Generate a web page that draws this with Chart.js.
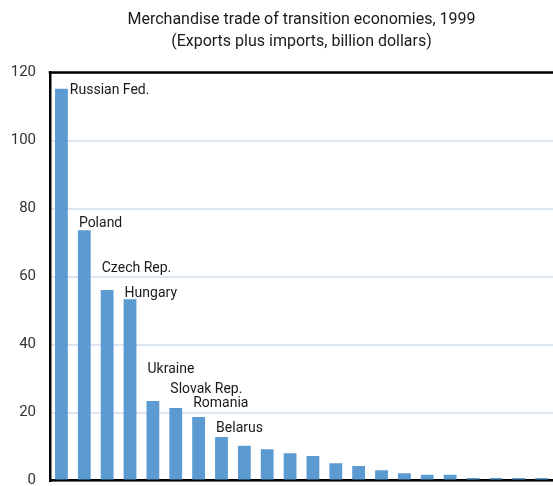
<!DOCTYPE html>
<html>
<head>
<meta charset="utf-8">
<script src="https://cdn.jsdelivr.net/npm/chart.js@4"></script>
<style>
  html, body { margin: 0; padding: 0; background: #fff; overflow: hidden; }
  canvas { display: block; }
</style>
</head>
<body>
<canvas id="tradeChart" width="553" height="486"></canvas>
<script>
const FONT = '"Liberation Sans Narrow", "Roboto", "DejaVu Sans Condensed", sans-serif';

const titleText = 'Merchandise trade of transition economies, 1999';
const subtitleText = '(Exports plus imports, billion dollars)';

// only the first eight bars carry a name in the picture
const countries = [
    'Russian Fed.', 'Poland', 'Czech Rep.', 'Hungary', 'Ukraine', 'Slovak Rep.', 'Romania', 'Belarus',
    '', '', '', '', '', '', '', '', '', '', '', '', '', ''
];
const tradeValues = [
    115.2, 73.6, 56.0, 53.3, 23.4, 21.3, 18.7, 12.8,
    10.2, 9.2, 8.0, 7.2, 5.1, 4.3, 3.0, 2.1, 1.7, 1.7, 0.7, 0.7, 0.7, 0.7
];
const yTicks = [0, 20, 40, 60, 80, 100, 120];

// how far (px) each name sits above its bar top; first one sits beside the bar
const nameLift = [-5, 3.3, 18.3, 2.3, 28, 15.3, 10.3, 5];

const labelPlugin = {
    id: 'labels',
    afterDraw(chart) {
        const ctx = chart.ctx;
        const area = chart.chartArea;
        const meta = chart.getDatasetMeta(0);
        ctx.save();

        // frame line along the top
        ctx.strokeStyle = '#000';
        ctx.lineWidth = 2.5;
        ctx.beginPath();
        ctx.moveTo(area.left - 1.25, area.top);
        ctx.lineTo(area.right, area.top);
        ctx.stroke();

        // titles centred over the plot
        const cx = (area.left + area.right) / 2;
        ctx.fillStyle = '#1a1a1a';
        ctx.textAlign = 'center';
        ctx.textBaseline = 'alphabetic';
        ctx.font = '16px ' + FONT;
        ctx.fillText(titleText, cx, 23.5);
        ctx.fillText(subtitleText, cx, 45.5);

        // bar names
        ctx.font = '14px ' + FONT;
        ctx.textAlign = 'left';
        countries.forEach((name, i) => {
            if (!name) return;
            const bar = meta.data[i];
            const half = bar.width / 2;
            if (i === 0) {
                ctx.fillText(name, bar.x + half + 2, bar.y + 5);
            } else {
                ctx.fillText(name, bar.x - half + 1, bar.y - nameLift[i]);
            }
        });
        ctx.restore();
    }
};

new Chart(document.getElementById('tradeChart'), {
    type: 'bar',
    data: {
        labels: countries.map((c, i) => c || ('#' + (i + 1))),
        datasets: [{
            data: tradeValues,
            backgroundColor: '#5b9bd2',
            borderWidth: 0,
            barPercentage: 0.56,
            categoryPercentage: 1.0
        }]
    },
    options: {
        responsive: false,
        animation: false,
        events: [],
        layout: { padding: { top: 72.5, bottom: 5.5, left: 0, right: 0 } },
        plugins: {
            legend: { display: false },
            tooltip: { enabled: false },
            title: { display: false }
        },
        scales: {
            x: {
                offset: true,
                ticks: { display: false },
                grid: { display: false, drawTicks: false },
                border: { display: true, color: '#000', width: 2.5 },
                afterFit(scale) { scale.height = 0; }
            },
            y: {
                min: 0,
                max: 120,
                afterBuildTicks(scale) { scale.ticks = yTicks.map(v => ({ value: v })); },
                ticks: {
                    color: '#333',
                    padding: 14,
                    font: { family: FONT, size: 15 }
                },
                grid: { color: '#dce6f1', lineWidth: 2, drawTicks: false },
                border: { display: true, color: '#000', width: 2.5 },
                afterFit(scale) {
                    scale.width = 50;
                    // tick padding would otherwise push the plot bottom up
                    scale.paddingTop = 0;
                    scale.paddingBottom = 0;
                }
            }
        }
    },
    plugins: [labelPlugin]
});
</script>
</body>
</html>
